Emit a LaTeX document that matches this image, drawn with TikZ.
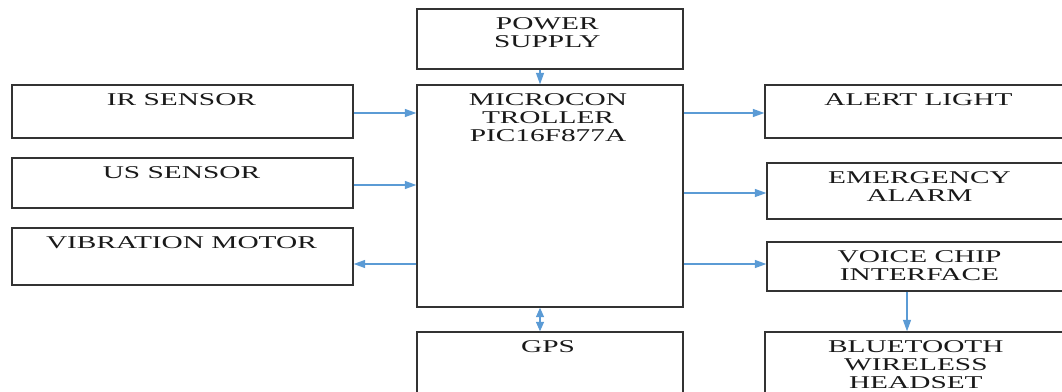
\documentclass[tikz,border=0pt]{standalone}
\usepackage{fontspec}
\setmainfont{Liberation Serif}
\usetikzlibrary{arrows.meta,fit}
\newcommand{\lbl}[1]{\scalebox{1.63}[1]{\fontsize{13.5pt}{13.5pt}\selectfont\begin{tabular}{@{}c@{}}#1\end{tabular}}}
\begin{document}
\begin{tikzpicture}[x=0.75pt,y=-0.75pt,
  box/.style={draw=black!80, line width=1.1pt, inner sep=0pt},
  txt/.style={anchor=north, inner sep=0pt, text=black!90},
  arr/.style={draw={rgb,255:red,91;green,155;blue,213}, line width=0.8pt,
    -{Triangle[length=8.5pt,width=6pt]}},
  darr/.style={arr, {Triangle[length=7pt,width=6pt]}-{Triangle[length=7pt,width=6pt]}}]
\useasboundingbox (0,0) rectangle (1062,392);
\begin{scope}
\clip (0,0) rectangle (1062,392);
% boxes
\node[box, fit={(417,9) (683,69)}] (ps) {};
\node[box, fit={(417,85) (683,307)}] (mc) {};
\node[box, fit={(12,85) (353,138)}] (ir) {};
\node[box, fit={(12,158) (353,208)}] (us) {};
\node[box, fit={(12,228) (353,285)}] (vm) {};
\node[box, fit={(765,85) (1072,138)}] (al) {};
\node[box, fit={(767,163) (1072,219)}] (ea) {};
\node[box, fit={(767,242) (1072,291)}] (vc) {};
\node[box, fit={(417,332) (683,420)}] (gps) {};
\node[box, fit={(765,332) (1072,420)}] (bt) {};
% texts
\node[txt] at ([xshift=-2pt,yshift=-6pt]ps.north) {\lbl{POWER\\SUPPLY}};
\node[txt] at ([xshift=-1.5pt,yshift=-6pt]mc.north) {\lbl{MICROCON\\TROLLER\\PIC16F877A}};
\node[txt] at ([xshift=-0.8pt,yshift=-6pt]ir.north) {\lbl{IR SENSOR}};
\node[txt] at ([xshift=-0.8pt,yshift=-6pt]us.north) {\lbl{US SENSOR}};
\node[txt] at ([xshift=-0.8pt,yshift=-6pt]vm.north) {\lbl{VIBRATION MOTOR}};
\node[txt] at ([yshift=-6pt]al.north) {\lbl{ALERT LIGHT}};
\node[txt] at ([yshift=-6.5pt]ea.north) {\lbl{EMERGENCY\\ALARM}};
\node[txt] at ([yshift=-6pt]vc.north) {\lbl{VOICE CHIP\\INTERFACE}};
\node[txt] at ([xshift=-1.5pt,yshift=-6pt]gps.north) {\lbl{GPS}};
\node[txt] at ([xshift=-2pt,yshift=-6pt]bt.north) {\lbl{BLUETOOTH\\WIRELESS\\HEADSET}};
% connectors
\draw[arr] (ps.south -| 540,0) -- (mc.north -| 540,0);
\draw[arr] (ir.east |- 0,113) -- (mc.west |- 0,113);
\draw[arr] (us.east |- 0,185) -- (mc.west |- 0,185);
\draw[arr] (mc.west |- 0,264) -- (vm.east |- 0,264);
\draw[arr] (mc.east |- 0,113) -- (al.west |- 0,113);
\draw[arr] (mc.east |- 0,193) -- (ea.west |- 0,193);
\draw[arr] (mc.east |- 0,264) -- (vc.west |- 0,264);
\draw[arr] (vc.south -| 907,0) -- (bt.north -| 907,0);
\draw[darr] (mc.south -| 540,0) -- (gps.north -| 540,0);
\end{scope}
\end{tikzpicture}
\end{document}
